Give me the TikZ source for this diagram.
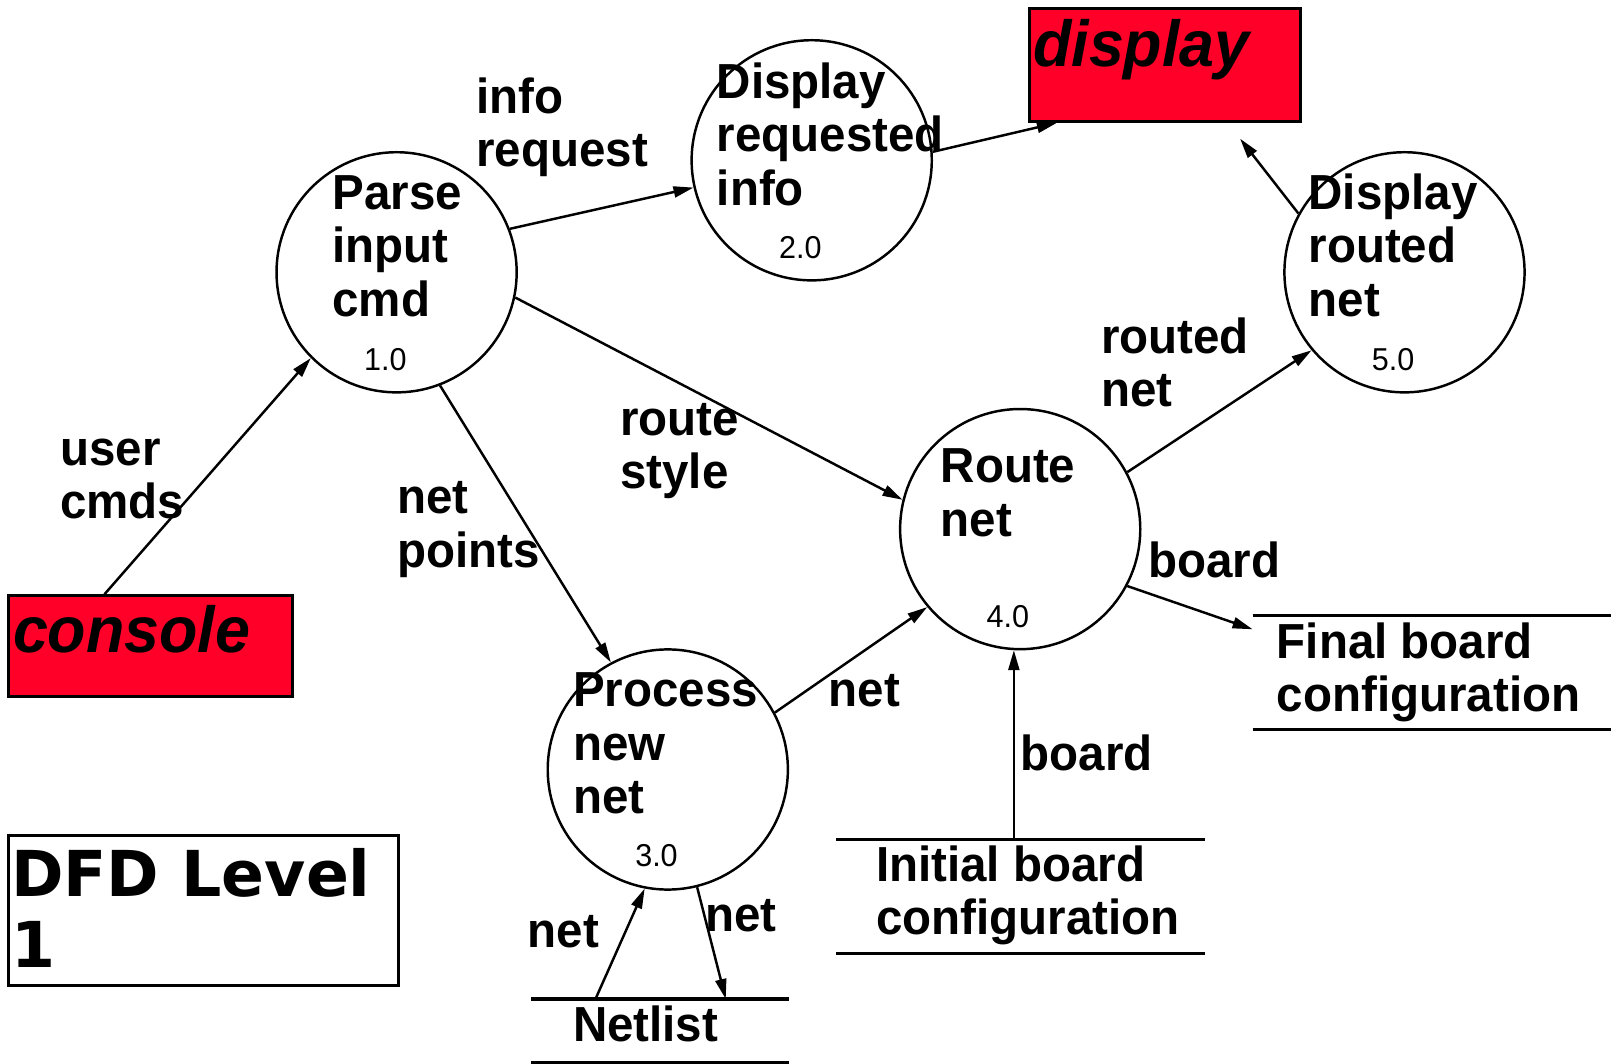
\documentclass[tikz,border=0pt]{standalone}
\usepackage{fontspec}
\setmainfont{Liberation Sans}[FakeStretch=0.965]
\newfontfamily\levelfont{DejaVu Sans}
\usetikzlibrary{arrows.meta, calc, positioning}
\definecolor{termred}{RGB}{255,0,40}
\tikzstyle{flow} = [line width=0.7pt, -{Triangle[length=2mm, width=1.1mm]}]

\begin{document}
\begin{tikzpicture}[x=0.01cm, y=-0.01cm,
		proc/.style={circle, draw, line width=0.7pt, minimum size=2.4cm, inner sep=0pt},
		term/.style 2 args={rectangle, draw, line width=0.9pt, fill=termred, minimum width=#1, minimum height=#2},
		store/.style 2 args={rectangle, minimum width=#1, minimum height=#2, inner sep=0pt},
		lbl/.style={anchor=base west, align=left, inner sep=0pt},
		termtext/.style={anchor=base west, inner sep=0pt, font=\fontsize{18.5}{22}\selectfont\bfseries\itshape},
		num/.style={inner sep=0pt, font=\fontsize{9}{10}\selectfont\mdseries},
		font=\fontsize{14}{15.2}\selectfont\bfseries
		]
		\useasboundingbox (0,0) rectangle (1611,1064);
		% Terminators
		\node[term={2.712cm}{1.13cm}] (display) at (1165.1,64.7) {};
		\node[termtext] (displaytxt) at (1032.5,66.8) {display};
		\node[term={2.846cm}{1.007cm}] (console) at (150.5,646.3) {};
		\node[termtext] (consoletxt) at (12.3,652.4) {console};
		% Processes (text anchored at its last baseline)
		\node[proc] (parse) at (396.6,272.3) {};
		\node[lbl] (parsetxt) at (331.8,316.4) {Parse\\input\\cmd};
		\node[num] (parsenum) at (385.3,359.6) {1.0};
		\node[proc] (dispinfo) at (811.7,160.3) {};
		\node[lbl] (dispinfotxt) at (716.1,205.4) {Display\\requested\\info};
		\node[num] (dispinfonum) at (800.3,247.6) {2.0};
		\node[proc] (procnet) at (667.8,769.5) {};
		\node[lbl] (procnettxt) at (572.3,813.7) {Process\\new\\net};
		\node[num] (procnetnum) at (656.5,855.8) {3.0};
		\node[proc] (route) at (1020.2,529.1) {};
		\node[lbl] (routetxt) at (940.1,536.3) {Route\\net};
		\node[num] (routenum) at (1007.9,616.4) {4.0};
		\node[proc] (disprouted) at (1404.5,272.3) {};
		\node[lbl] (disproutedtxt) at (1307.9,316.4) {Display\\routed\\net};
		\node[num] (disproutednum) at (1393.2,359.6) {5.0};
		% Data stores
		\node[store={2.558cm}{0.626cm}] (netlist) at (660.1,1031) {};
		\node[lbl] (netlisttxt) at (572.3,1041.8) {Netlist};
		\node[store={3.668cm}{1.12cm}] (initcfg) at (1020.7,896.4) {};
		\node[lbl] (initcfgtxt) at (875.3,934.9) {Initial board\\configuration};
		\node[store={3.576cm}{1.12cm}] (finalcfg) at (1432.2,672.4) {};
		\node[lbl] (finalcfgtxt) at (1276.1,712.0) {Final board\\configuration};
		\foreach \s in {netlist, initcfg, finalcfg}
			\draw[line width=0.9pt] (\s.north west) -- (\s.north east) (\s.south west) -- (\s.south east);
		% Title
		\node[rectangle, draw, line width=0.9pt, fill=white, minimum width=3.904cm, minimum height=1.5cm] (title) at (203.4,910.3) {};
		\node[lbl, font=\levelfont\fontsize{18}{20.4}\selectfont\bfseries] (titletxt) at (10.5,967.9) {DFD Level\\1};
		% Flows
		\coordinate (dispin) at (1240.1,138.7);
		\draw[flow] ($(console.north west)!0.34!(console.north east)$) -- (parse.225);
		\draw[flow] (parse.21) -- (dispinfo.193);
		\draw[flow] (dispinfo.4) -- ($(display.south west)!0.106!(display.south east)$);
		\draw[flow] (disprouted.151) -- (dispin);
		\draw[flow] (parse.-12) -- (route.166);
		\draw[flow] (parse.-69) -- (procnet.118);
		\draw[flow] (route.28) -- (disprouted.220);
		\draw[flow] (route.-28) -- ($(finalcfg.north west)!0.12!(finalcfg.south west)$);
		\draw[flow] (initcfg.north -| route.-93) -- (route.-93);
		\draw[flow] (procnet.28) -- (route.220);
		\draw[flow] ($(netlist.north west)!0.249!(netlist.north east)$) -- (procnet.259);
		\draw[flow] (procnet.-76) -- ($(netlist.north west)!0.755!(netlist.north east)$);
		% Flow labels (anchored at last baseline)
		\node[lbl] (inforeq) at (475.7,166.5) {info\\request};
		\node[lbl] (usercmds) at (59.6,518.8) {user\\cmds};
		\node[lbl] (netpoints) at (396.6,567.1) {net\\points};
		\node[lbl] (routestyle) at (619.5,489.0) {route\\style};
		\node[lbl] (routednet) at (1100.3,406.8) {routed\\net};
		\node[lbl] (boardout) at (1147.6,577.4) {board};
		\node[lbl] (boardin) at (1020.2,770.6) {board};
		\node[lbl] (netup) at (828.1,706.9) {net};
		\node[lbl] (netin) at (527.1,947.3) {net};
		\node[lbl] (netout) at (704.8,931.9) {net};
\end{tikzpicture}
\end{document}
